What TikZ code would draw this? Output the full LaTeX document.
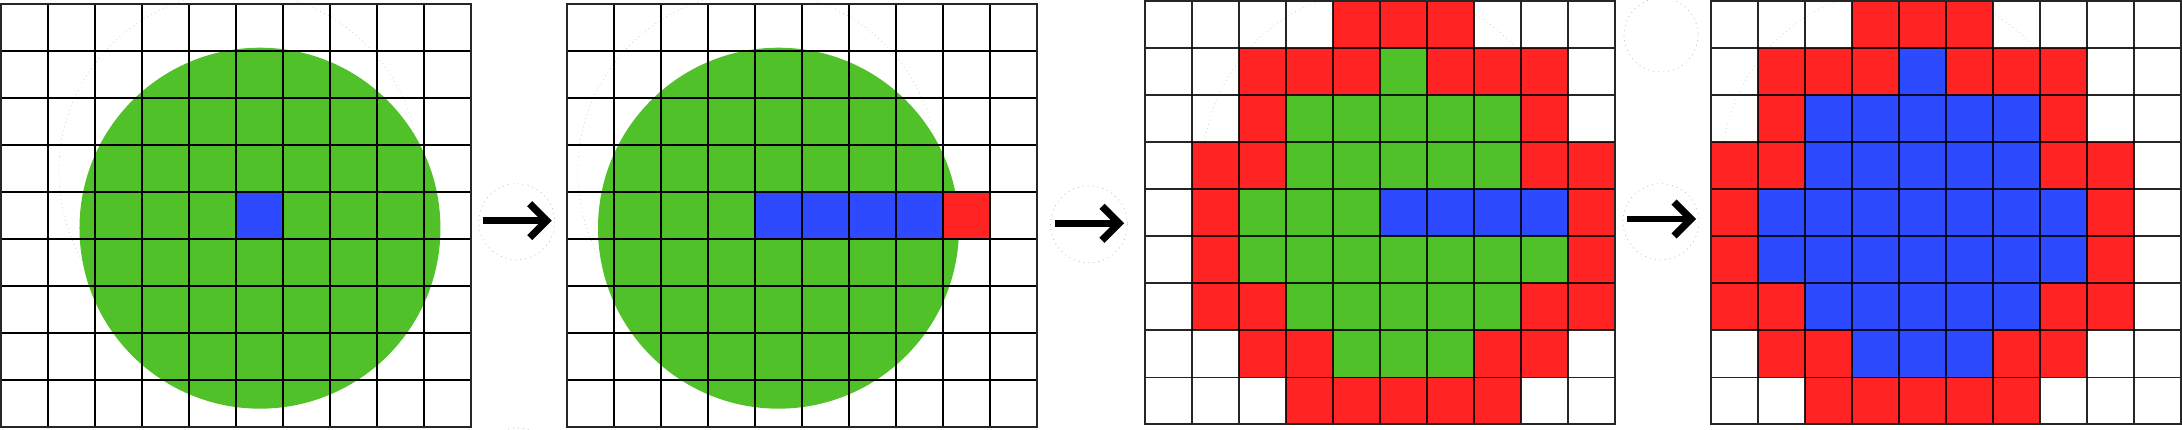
\documentclass[tikz,border=0pt]{standalone}
\definecolor{cgreen}{RGB}{81,193,41}
\definecolor{cblue}{RGB}{46,74,255}
\definecolor{cred}{RGB}{255,35,35}
\tikzset{
  gridline/.style={line width=2pt, black},
  gridborder/.style={line width=2pt, black!85},
  thingrid/.style={gridline/.append style={line width=1.6pt, draw opacity=0.85},
                   gridborder/.append style={line width=1.7pt}},
  faint/.style={gray!45, line width=0.6pt, dash pattern=on 0.8pt off 3.5pt},
  ringdots/.style={gray!50, line width=0.7pt, dash pattern=on 1pt off 4pt},
  pics/panelarrow/.style={code={
    \draw[line width=6.8pt] (-64,0) -- (-3,0);
    \draw[line width=7.2pt, miter limit=10] (-17,-17) -- (0,0) -- (-17,17);
  }}
}
\newcommand\panelgrid{%
  \foreach \i in {1,...,9} \draw[gridline] (\i,0) -- (\i,9);
  \foreach \j in {1,...,8} \draw[gridline] (0,\j) -- (10,\j);
  \draw[gridborder] (0,0) rectangle (10,9);
}
\begin{document}
\begin{tikzpicture}[x=1pt,y=-1pt]
\useasboundingbox (0,0) rectangle (2182,430);
\clip (0,0) rectangle (2182,430);

% ---------- panel 1 ----------
\coordinate (p1) at (1,4);
\begin{scope}[shift={(p1)}, x=47pt, y=-47pt]
  \draw[faint] (5.06,3.57) circle[radius=3.83];
  \fill[cgreen] (5.51,4.77) circle[radius=3.84];
  \fill[cblue] (5,4) rectangle (6,5);
  \panelgrid
\end{scope}

% ---------- panel 2 ----------
\coordinate (p2) at (566.5,4);
\begin{scope}[shift={(p2)}, x=47pt, y=-47pt]
  \draw[faint] (4.07,3.57) circle[radius=3.83];
  \fill[cgreen] (4.51,4.77) circle[radius=3.84];
  \foreach \c in {4,5,6,7} \fill[cblue] (\c,4) rectangle ++(1,1);
  \fill[cred] (8,4) rectangle (9,5);
  \panelgrid
\end{scope}

% ---------- panel 3 ----------
\coordinate (p3) at (1145,1.3);
\begin{scope}[shift={(p3)}, x=47pt, y=-47pt, thingrid]
  \draw[faint] (5.06,3.57) circle[radius=3.83];
  \foreach \c/\r in {4/0,5/0,6/0, 2/1,3/1,4/1,6/1,7/1,8/1, 2/2,8/2,
                     1/3,2/3,8/3,9/3, 1/4,9/4, 1/5,9/5, 1/6,2/6,8/6,9/6,
                     2/7,3/7,7/7,8/7, 3/8,4/8,5/8,6/8,7/8}
    \fill[cred] (\c,\r) rectangle ++(1,1);
  \foreach \c/\r in {5/1, 3/2,4/2,5/2,6/2,7/2, 3/3,4/3,5/3,6/3,7/3,
                     2/4,3/4,4/4, 2/5,3/5,4/5,5/5,6/5,7/5,8/5,
                     3/6,4/6,5/6,6/6,7/6, 4/7,5/7,6/7}
    \fill[cgreen] (\c,\r) rectangle ++(1,1);
  \foreach \c in {5,6,7,8} \fill[cblue] (\c,4) rectangle ++(1,1);
  \panelgrid
\end{scope}

% ---------- panel 4 ----------
\coordinate (p4) at (1710.7,1.3);
\begin{scope}[shift={(p4)}, x=47pt, y=-47pt, thingrid]
  \draw[faint] (4.07,3.57) circle[radius=3.83];
  \foreach \c/\r in {3/0,4/0,5/0, 1/1,2/1,3/1,5/1,6/1,7/1, 1/2,7/2,
                     0/3,1/3,7/3,8/3, 0/4,8/4, 0/5,8/5, 0/6,1/6,7/6,8/6,
                     1/7,2/7,6/7,7/7, 2/8,3/8,4/8,5/8,6/8}
    \fill[cred] (\c,\r) rectangle ++(1,1);
  \foreach \c/\r in {4/1, 2/2,3/2,4/2,5/2,6/2, 2/3,3/3,4/3,5/3,6/3,
                     1/4,2/4,3/4,4/4,5/4,6/4,7/4, 1/5,2/5,3/5,4/5,5/5,6/5,7/5,
                     2/6,3/6,4/6,5/6,6/6, 3/7,4/7,5/7}
    \fill[cblue] (\c,\r) rectangle ++(1,1);
  \panelgrid
\end{scope}

% ---------- arrows and their faint rings ----------
\coordinate (r1) at (516.7,221.7);
\coordinate (r2) at (1089,224.3);
\coordinate (r3) at (1661,221.7);
\coordinate (r4) at (1661,35);
\coordinate (r5) at (517,466);
\draw[ringdots] (r1) circle[radius=38];
\draw[ringdots] (r2) circle[radius=38.5];
\draw[ringdots] (r3) circle[radius=38];
\draw[ringdots] (r4) circle[radius=37];
\draw[ringdots] (r5) circle[radius=38];

\coordinate (a1) at (546.7,220.7);
\coordinate (a2) at (1119,223.3);
\coordinate (a3) at (1691,219);
\pic at (a1) {panelarrow};
\pic at (a2) {panelarrow};
\pic at (a3) {panelarrow};
\end{tikzpicture}
\end{document}
